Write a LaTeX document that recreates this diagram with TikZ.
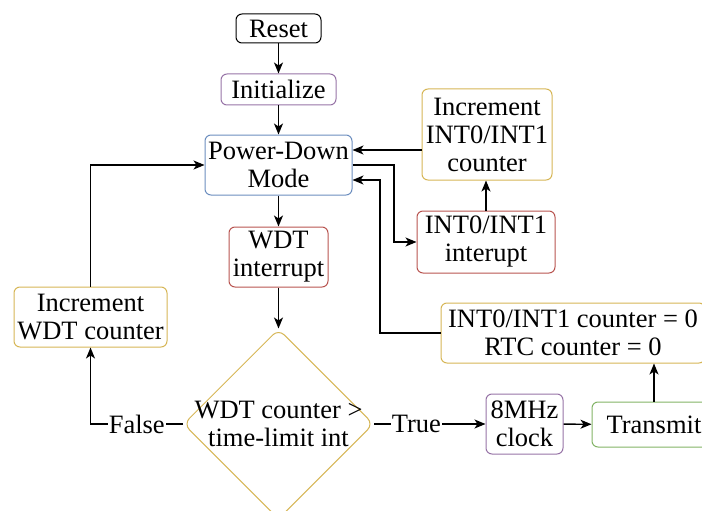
\documentclass[tikz,border=0pt]{standalone}
\usepackage{fontspec}
\setmainfont{Liberation Serif}
\usetikzlibrary{arrows.meta,shapes.geometric,calc}
\definecolor{cblue}{HTML}{6C8EBF}
\definecolor{cred}{HTML}{B85450}
\definecolor{cyellow}{HTML}{D6B656}
\definecolor{cpurple}{HTML}{9673A6}
\definecolor{cgreen}{HTML}{82B366}
\begin{document}
\begin{tikzpicture}[x=1pt,y=-1pt,
  txt/.style={font=\fontsize{26.5}{28}\selectfont},
  box/.style={draw, rounded corners=6pt, align=center, inner sep=0pt, line width=1pt, txt},
  conn/.style={line width=1.4pt, -{Stealth[length=11pt,width=9pt,inset=3pt]}},
  lbl/.style={fill=white, inner sep=1pt, txt}]
\useasboundingbox (0,0) rectangle (702,511);

% boxes
\node[box, draw=black, minimum width=85pt, minimum height=29pt] (reset) at (278.5,28.5) {Reset};
\node[box, draw=cpurple, minimum width=115pt, minimum height=31pt] (init) at (278.5,89.5) {Initialize};
\node[box, draw=cblue, minimum width=147pt, minimum height=60pt] (pd) at (278.5,165) {Power-Down\\Mode};
\node[box, draw=cred, minimum width=99pt, minimum height=60pt] (wdt) at (278.5,257) {WDT\\interrupt};
\node[draw=cyellow, diamond, minimum width=190pt, minimum height=190pt, inner sep=0pt,
  rounded corners=8pt, line width=1pt] (dia) at (278.5,424) {};
\node[align=center, inner sep=0pt, txt] (diatxt) at (dia.center) {WDT counter >\\time-limit int};
\node[box, draw=cyellow, minimum width=153pt, minimum height=60pt] (incwdt) at (90.5,317) {Increment\\WDT counter};
\node[box, draw=cyellow, minimum width=130pt, minimum height=91pt] (incint) at (487,134.5) {Increment\\INT0/INT1\\counter};
\node[box, draw=cred, minimum width=138pt, minimum height=62pt] (intint) at (486,242) {INT0/INT1\\interupt};
\node[box, draw=cyellow, minimum width=264pt, minimum height=60pt] (rtc) at (573,333) {INT0/INT1 counter = 0\\RTC counter = 0};
\node[box, draw=cpurple, minimum width=77pt, minimum height=60pt] (clk) at (524.5,424) {8MHz\\clock};
\node[box, draw=cgreen, minimum width=124pt, minimum height=45pt] (tx) at (654,424.5) {Transmit};

% helper points for the routed connectors
\coordinate (pdin1) at ($(pd.east)+(0,-15)$);
\coordinate (pdin2) at ($(pd.east)+(0,15)$);
\coordinate (bendint) at (394,165);
\coordinate (bendrtc) at (380,333);

% main flow
\draw[conn] (reset) -- (init);
\draw[conn] (init) -- (pd);
\draw[conn] (pd) -- (wdt);
\draw[conn] (wdt) -- (dia);
\draw[conn] (dia.west) -| node[lbl, pos=0.25] {False} (incwdt.south);
\draw[conn] (incwdt.north) |- (pd.west);
\draw[conn] (dia.east) -- node[lbl, pos=0.38] {True} (clk.west);
\draw[conn] (clk) -- (tx);
\draw[conn] (tx.north) -- (tx.north |- rtc.south);
\draw[conn] (rtc.west) -- (bendrtc) |- (pdin2);

% external interrupt branch
\draw[conn] (pd.east) -- (bendint) |- (intint.west);
\draw[conn] (intint.north) -- (intint.north |- incint.south);
\draw[conn] (incint.west |- pdin1) -- (pdin1);
\end{tikzpicture}
\end{document}
